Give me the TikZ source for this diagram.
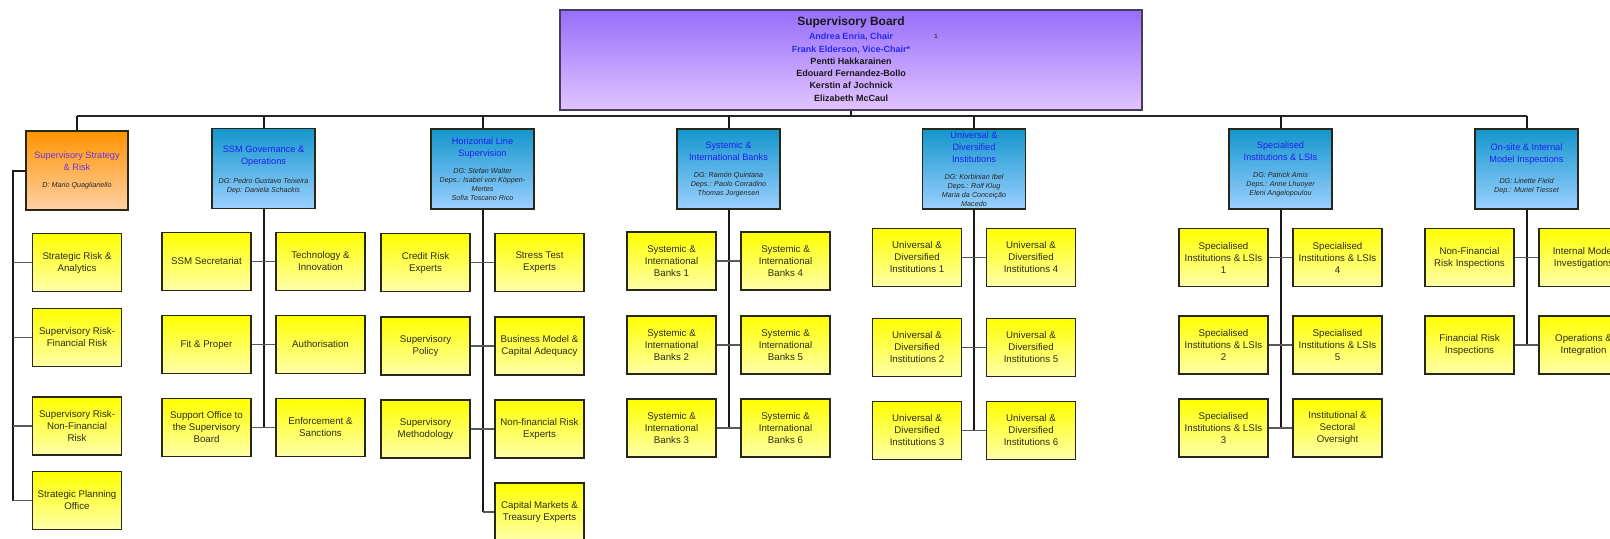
\documentclass[tikz,border=0pt]{standalone}
\usepackage{fontspec}
\setmainfont{Liberation Sans}
\definecolor{yelTop}{RGB}{255,255,0}
\definecolor{yelBot}{RGB}{255,255,170}
\definecolor{bluTop}{RGB}{20,150,205}
\definecolor{bluBot}{RGB}{155,208,255}
\definecolor{orTop}{RGB}{255,148,0}
\definecolor{orBot}{RGB}{255,208,165}
\definecolor{purTop}{RGB}{150,110,250}
\definecolor{purBot}{RGB}{226,196,255}
\definecolor{titleBlue}{RGB}{30,30,240}
\definecolor{titleViolet}{RGB}{110,50,220}
\definecolor{boardBlue}{RGB}{40,40,245}
\definecolor{boxEdge}{RGB}{40,40,25}
\definecolor{boardEdge}{RGB}{70,60,95}
\definecolor{unitText}{RGB}{45,45,20}
\begin{document}
\begin{tikzpicture}[x=0.5pt,y=-0.5pt,
  unit/.style={draw=boxEdge, line width=0.8pt, top color=yelTop, bottom color=yelBot,
    minimum width=44.5pt, minimum height=29pt, inner sep=0pt, align=center,
    font=\fontsize{4.85}{6}\selectfont, text=unitText},
  hdrB/.style={draw=boxEdge, line width=0.8pt, top color=bluTop, bottom color=bluBot,
    minimum width=51.5pt, minimum height=40pt, inner sep=0pt},
  hdrO/.style={draw=boxEdge, line width=0.8pt, top color=orTop, bottom color=orBot,
    minimum width=51pt, minimum height=39.5pt, inner sep=0pt},
  boardbox/.style={draw=boardEdge, line width=0.8pt, top color=purTop, bottom color=purBot,
    minimum width=291pt, minimum height=50pt, inner sep=0pt},
  ttl/.style={inner sep=0pt, align=center, font=\fontsize{4.6}{6}\selectfont, text=titleBlue},
  nm/.style={inner sep=0pt, align=center, font=\fontsize{3.6}{4.5}\selectfont\itshape, text=black!85},
  bt/.style={inner sep=0pt, font=\fontsize{6}{7}\selectfont\bfseries, text=black!90},
  bn/.style={inner sep=0pt, font=\fontsize{4.5}{5}\selectfont\bfseries, text=black!90},
  vline/.style={draw=black!90, line width=1pt},
  hline/.style={draw=black!65, line width=0.9pt},
  busline/.style={draw=black!85, line width=1.1pt}
]
\useasboundingbox (0,0) rectangle (1610,538);

% ---------- Supervisory Board ----------
\node[boardbox] (board) at (851,60) {};
\node[bt] (b0) at (851,22) {Supervisory Board};
\node[bn, text=boardBlue] (b1) at (851,36.5) {Andrea Enria, Chair};
\node[bn, text=boardBlue] (b2) at (851,49.5) {Frank Elderson, Vice-Chair*};
\node[bn] (b3) at (851,61.5) {Pentti Hakkarainen};
\node[bn] (b4) at (851,73.5) {Edouard Fernandez-Bollo};
\node[bn] (b5) at (851,85.5) {Kerstin af Jochnick};
\node[bn] (b6) at (851,98.5) {Elizabeth McCaul};
\node[inner sep=0pt, font=\fontsize{3}{3}\selectfont\bfseries, text=black!80] (fn) at (936,36) {1};

% ---------- Headers ----------
\node[hdrO] (h1) at (77,170.5) {};
\node[ttl, text=titleViolet] (h1t) at (77,161) {Supervisory Strategy\\\& Risk};
\node[nm] (h1n) at (77,186) {D: Mario Quagliariello};

\node[hdrB] (h2) at (263.5,168.5) {};
\node[ttl] (h2t) at (263.5,156) {SSM Governance \&\\Operations};
\node[nm] (h2n) at (263.5,186) {DG: Pedro Gustavo Teixeira\\Dep: Daniela Schackis};

\node[hdrB] (h3) at (482.5,169) {};
\node[ttl] (h3t) at (482.5,148) {Horizontal Line\\Supervision};
\node[nm] (h3n) at (482.5,184.5) {DG: Stefan Walter\\Deps.: Isabel von Köppen-\\Mertes\\Sofia Toscano Rico};

\node[hdrB] (h4) at (728.5,169) {};
\node[ttl] (h4t) at (728.5,151) {Systemic \&\\International Banks};
\node[nm] (h4n) at (728.5,184.5) {DG: Ramón Quintana\\Deps.: Paolo Corradino\\Thomas Jorgensen};

\node[hdrB] (h5) at (974,169) {};
\node[ttl] (h5t) at (974,147) {Universal \&\\Diversified\\Institutions};
\node[nm] (h5n) at (974,190.5) {DG: Korbinian Ibel\\Deps.: Rolf Klug\\Maria da Conceição\\Macedo};

\node[hdrB] (h6) at (1280.5,169) {};
\node[ttl] (h6t) at (1280.5,151) {Specialised\\Institutions \& LSIs};
\node[nm] (h6n) at (1280.5,184.5) {DG: Patrick Amis\\Deps.: Anne Lhuoyer\\Eleni Angelopoulou};

\node[hdrB] (h7) at (1526.5,169) {};
\node[ttl] (h7t) at (1526.5,154.5) {On-site \& Internal\\Model Inspections};
\node[nm] (h7n) at (1526.5,186) {DG: Linette Field\\Dep.: Muriel Tiesset};

% ---------- Column 1 ----------
\node[unit] (s1) at (77,262.5) {Strategic Risk \&\\Analytics};
\node[unit] (s2) at (77,337.5) {Supervisory Risk-\\Financial Risk};
\node[unit] (s3) at (77,426) {Supervisory Risk-\\Non-Financial\\Risk};
\node[unit] (s4) at (77,500.5) {Strategic Planning\\Office};

% ---------- Column 2 ----------
\node[unit] (g1) at (206.5,261.5) {SSM Secretariat};
\node[unit] (g2) at (320.5,261.5) {Technology \&\\Innovation};
\node[unit] (g3) at (206.5,344.5) {Fit \& Proper};
\node[unit] (g4) at (320.5,344.5) {Authorisation};
\node[unit] (g5) at (206.5,427.5) {Support Office to\\the Supervisory\\Board};
\node[unit] (g6) at (320.5,427.5) {Enforcement \&\\Sanctions};

% ---------- Column 3 ----------
\node[unit] (x1) at (425.5,262.5) {Credit Risk\\Experts};
\node[unit] (x2) at (539.5,262.5) {Stress Test\\Experts};
\node[unit] (x3) at (425.5,346) {Supervisory\\Policy};
\node[unit] (x4) at (539.5,346) {Business Model \&\\Capital Adequacy};
\node[unit] (x5) at (425.5,429) {Supervisory\\Methodology};
\node[unit] (x6) at (539.5,429) {Non-financial Risk\\Experts};
\node[unit] (x7) at (539.5,512) {Capital Markets \&\\Treasury Experts};

% ---------- Column 4 ----------
\node[unit] (y1) at (671.5,261) {Systemic \&\\International\\Banks 1};
\node[unit] (y4) at (785.5,261) {Systemic \&\\International\\Banks 4};
\node[unit] (y2) at (671.5,345) {Systemic \&\\International\\Banks 2};
\node[unit] (y5) at (785.5,345) {Systemic \&\\International\\Banks 5};
\node[unit] (y3) at (671.5,428) {Systemic \&\\International\\Banks 3};
\node[unit] (y6) at (785.5,428) {Systemic \&\\International\\Banks 6};

% ---------- Column 5 ----------
\node[unit] (u1) at (917,257.5) {Universal \&\\Diversified\\Institutions 1};
\node[unit] (u4) at (1031,257.5) {Universal \&\\Diversified\\Institutions 4};
\node[unit] (u2) at (917,347.5) {Universal \&\\Diversified\\Institutions 2};
\node[unit] (u5) at (1031,347.5) {Universal \&\\Diversified\\Institutions 5};
\node[unit] (u3) at (917,430.5) {Universal \&\\Diversified\\Institutions 3};
\node[unit] (u6) at (1031,430.5) {Universal \&\\Diversified\\Institutions 6};

% ---------- Column 6 ----------
\node[unit] (p1) at (1223.5,257.5) {Specialised\\Institutions \& LSIs\\1};
\node[unit] (p4) at (1337.5,257.5) {Specialised\\Institutions \& LSIs\\4};
\node[unit] (p2) at (1223.5,345) {Specialised\\Institutions \& LSIs\\2};
\node[unit] (p5) at (1337.5,345) {Specialised\\Institutions \& LSIs\\5};
\node[unit] (p3) at (1223.5,428) {Specialised\\Institutions \& LSIs\\3};
\node[unit] (p6) at (1337.5,428) {Institutional \&\\Sectoral\\Oversight};

% ---------- Column 7 ----------
\node[unit] (o1) at (1469.5,257.5) {Non-Financial\\Risk Inspections};
\node[unit] (o3) at (1583.5,257.5) {Internal Model\\Investigations};
\node[unit] (o2) at (1469.5,345) {Financial Risk\\Inspections};
\node[unit] (o4) at (1583.5,345) {Operations \&\\Integration};

% ---------- Bus and stubs ----------
\coordinate (busL) at (77,116);
\coordinate (busR) at (1526.5,116);
\draw[busline] (busL) -- (busR);
\draw[vline] (board.south) -- (board.south |- busL);
\foreach \h in {h1,h2,h3,h4,h5,h6,h7}{
  \draw[vline] (\h.north) -- (\h.north |- busL);
}

% ---------- Column 1 connectors ----------
\coordinate (c1) at (13,170.5);
\draw[vline] (h1.west) -- (c1) -- (c1 |- s4.west);
\foreach \s in {s1,s2,s3,s4}{
  \draw[hline] (c1 |- \s.west) -- (\s.west);
}

% ---------- Two-sided columns ----------
\draw[vline] (h2.south) -- (h2.south |- g5.east);
\draw[hline] (g1.east) -- (g2.west);
\draw[hline] (g3.east) -- (g4.west);
\draw[hline] (g5.east) -- (g6.west);

\draw[vline] (h3.south) -- (h3.south |- x7.west);
\draw[hline] (x1.east) -- (x2.west);
\draw[hline] (x3.east) -- (x4.west);
\draw[hline] (x5.east) -- (x6.west);
\draw[hline] (h3.south |- x7.west) -- (x7.west);

\draw[vline] (h4.south) -- (h4.south |- y3.east);
\draw[hline] (y1.east) -- (y4.west);
\draw[hline] (y2.east) -- (y5.west);
\draw[hline] (y3.east) -- (y6.west);

\draw[vline] (h5.south) -- (h5.south |- u3.east);
\draw[hline] (u1.east) -- (u4.west);
\draw[hline] (u2.east) -- (u5.west);
\draw[hline] (u3.east) -- (u6.west);

\draw[vline] (h6.south) -- (h6.south |- p3.east);
\draw[hline] (p1.east) -- (p4.west);
\draw[hline] (p2.east) -- (p5.west);
\draw[hline] (p3.east) -- (p6.west);

\draw[vline] (h7.south) -- (h7.south |- o2.east);
\draw[hline] (o1.east) -- (o3.west);
\draw[hline] (o2.east) -- (o4.west);
\end{tikzpicture}
\end{document}
